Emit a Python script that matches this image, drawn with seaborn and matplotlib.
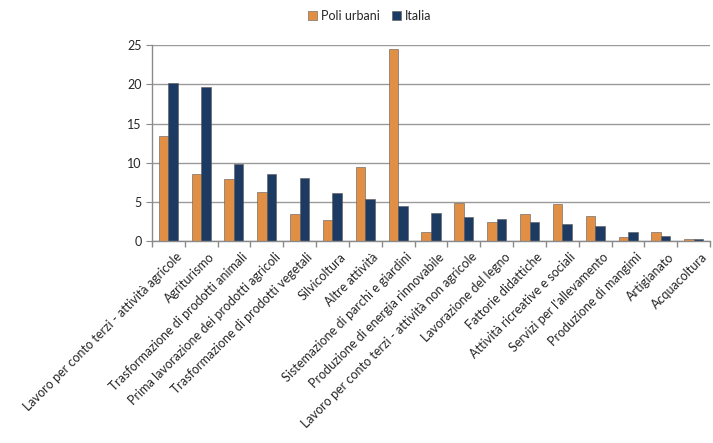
import matplotlib
matplotlib.use("Agg")
import matplotlib.pyplot as plt
from matplotlib.ticker import MultipleLocator, FixedLocator
from matplotlib.transforms import ScaledTranslation
import seaborn as sns
import pandas as pd

# dati (%)
categorie = [
    "Lavoro per conto terzi - attività agricole",
    "Agriturismo",
    "Trasformazione di prodotti animali",
    "Prima lavorazione dei prodotti agricoli",
    "Trasformazione di prodotti vegetali",
    "Silvicoltura",
    "Altre attività",
    "Sistemazione di parchi e giardini",
    "Produzione di energia rinnovabile",
    "Lavoro per conto terzi - attività non agricole",
    "Lavorazione del legno",
    "Fattorie didattiche",
    "Attività ricreative e sociali",
    "Servizi per l'allevamento",
    "Produzione di mangimi",
    "Artigianato",
    "Acquacoltura",
]
poli_urbani = [13.4, 8.6, 7.9, 6.3, 3.4, 2.7, 9.5, 24.5, 1.1, 4.8, 2.4, 3.5, 4.7, 3.2, 0.5, 1.1, 0.2]
italia = [20.2, 19.6, 9.8, 8.5, 8.1, 6.1, 5.3, 4.5, 3.6, 3.1, 2.8, 2.4, 2.2, 1.9, 1.1, 0.6, 0.3]

df = pd.DataFrame({
    "categoria": categorie * 2,
    "valore": poli_urbani + italia,
    "serie": ["Poli urbani"] * len(categorie) + ["Italia"] * len(categorie),
})

sns.set_style("white")
plt.rcParams["font.family"] = ["Lato", "DejaVu Sans"]

fig = plt.figure(figsize=(7.13, 4.43), dpi=100)
ax = fig.add_axes([0.213, 0.456, 0.783, 0.442])

colori = {"Poli urbani": "#E28F46", "Italia": "#1C3A62"}
sns.barplot(data=df, x="categoria", y="valore", hue="serie", palette=colori,
            saturation=1, width=0.58, ax=ax, edgecolor="#5a5a5a", linewidth=0.4, legend=True)

ax.set_ylim(0, 25)
ax.yaxis.set_major_locator(MultipleLocator(5))
ax.set_xlim(-0.5, len(categorie) - 0.5)
ax.grid(axis="y", color="#9a9a9a", linewidth=1)
ax.set_axisbelow(True)
ax.set_xlabel("")
ax.set_ylabel("")

for s in ["top", "right"]:
    ax.spines[s].set_visible(False)
for s in ["left", "bottom"]:
    ax.spines[s].set_color("#8a8a8a")
    ax.spines[s].set_linewidth(1)

ax.set_xticks(range(len(categorie)))
ax.set_xticklabels(categorie, rotation=45, ha="right", rotation_mode="anchor", fontsize=9)
ax.tick_params(axis="x", which="major", length=0, pad=7)
sposta = ScaledTranslation(7 / 100, 0, fig.dpi_scale_trans)
for lab in ax.get_xticklabels():
    lab.set_transform(lab.get_transform() + sposta)
ax.xaxis.set_minor_locator(FixedLocator([i + 0.5 for i in range(-1, len(categorie))]))
ax.tick_params(axis="x", which="minor", length=4, color="#8a8a8a", width=1, bottom=True)
ax.tick_params(axis="y", labelsize=9, length=4, color="#8a8a8a", left=True)

leg = ax.legend(loc="lower center", bbox_to_anchor=(0.39, 1.06), ncol=2, frameon=False,
                fontsize=9, handlelength=0.7, handleheight=0.7, handletextpad=0.3,
                columnspacing=1.0)

fig.savefig("out.png", dpi=100)
